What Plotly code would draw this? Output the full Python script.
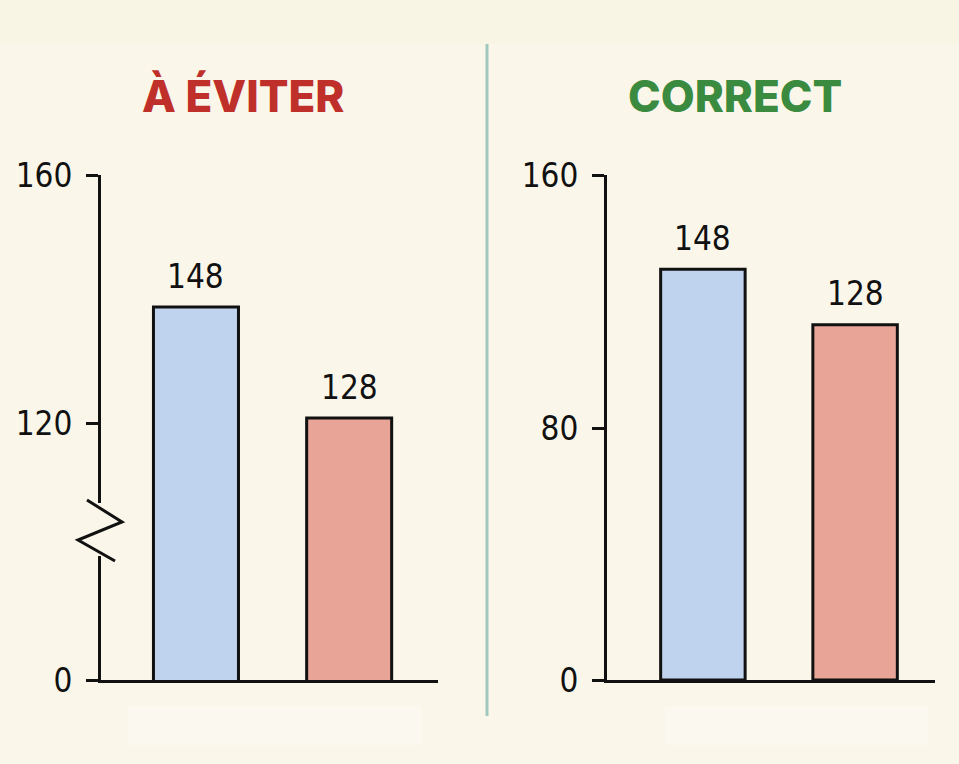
import plotly.graph_objects as go
from plotly.subplots import make_subplots

# data
categories = ["A", "B"]
values = [148, 128]
bar_colors = ["#bfd3ee", "#e7a497"]

titles = ["À ÉVITER", "CORRECT"]
title_colors = ["#c0302a", "#3a8a3f"]

# tick labels as printed on each panel
left_tick_text = ["0", "120", "160"]
right_tick_text = ["0", "80", "160"]

W, H = 959, 764
BG = "#faf7ea"
NUM_FONT = "Liberation Sans Narrow, DejaVu Sans Condensed, Roboto, sans-serif"
TITLE_FONT = "Inter, Lato, Open Sans, sans-serif"


def px(x, y):
    # pixel -> paper coords
    return x / W, 1 - y / H


fig = make_subplots(rows=1, cols=2, horizontal_spacing=0.1)

for i, col in enumerate([1, 2]):
    fig.add_trace(go.Bar(
        x=[0, 1], y=values,
        marker=dict(color=bar_colors, line=dict(color="#111111", width=3)),
        width=0.555,
        showlegend=False,
        hoverinfo="skip",
    ), row=1, col=col)
    xr = "x" if col == 1 else "x2"
    yr = "y" if col == 1 else "y2"
    for xi, v in enumerate(values):
        fig.add_annotation(x=xi, y=v, xref=xr, yref=yr, text=str(v),
                           showarrow=False, xanchor="center", yanchor="middle", yshift=31,
                           font=dict(family=NUM_FONT, size=33, color="#111111"))

# axis ranges picked so the bars sit where the picture draws them
ydom = [1 - 680 / H, 1 - 175 / H]
axis_common = dict(showline=True, linecolor="#111111", linewidth=3,
                   showgrid=False, zeroline=False, automargin=False)
fig.update_xaxes(axis_common, showticklabels=False, ticks="")
fig.update_xaxes(domain=[101 / W, 438 / W], range=[-0.62, 1.58], row=1, col=1)
fig.update_xaxes(domain=[607 / W, 935 / W], range=[-0.63, 1.525], row=1, col=2)

ytick_style = dict(ticks="outside", ticklen=12, tickwidth=2.5, tickcolor="#111111",
                   ticklabelstandoff=7,
                   tickfont=dict(family=NUM_FONT, size=33, color="#111111"))
fig.update_yaxes(axis_common, **ytick_style)
fig.update_yaxes(domain=ydom, range=[80.8, 171.8], tickmode="array",
                 tickvals=[80.8, 127.1, 171.8], ticktext=left_tick_text, row=1, col=1)
fig.update_yaxes(domain=ydom, range=[0, 182.0], tickmode="array",
                 tickvals=[0, 90.8, 182.0], ticktext=right_tick_text, row=1, col=2)

# titles
for cx, t, c in zip([243, 735], titles, title_colors):
    x0, y0 = px(cx, 96)
    fig.add_annotation(x=x0, y=y0, xref="paper", yref="paper", text=t, showarrow=False,
                       xanchor="center", yanchor="middle",
                       font=dict(family=TITLE_FONT, size=44, color=c, weight=800))

shapes = []
# top band
a, b = px(0, 0)
c, d = px(W, 44)
shapes.append(dict(type="rect", xref="paper", yref="paper", x0=a, y0=d, x1=c, y1=b,
                   fillcolor="#f8f5e4", line=dict(width=0), layer="below"))
# faint lighter patches under the axes
for x0p, x1p in [(128, 422), (665, 928)]:
    a, b = px(x0p, 706)
    c, d = px(x1p, 745)
    shapes.append(dict(type="rect", xref="paper", yref="paper", x0=a, y0=d, x1=c, y1=b,
                       fillcolor="#fbf9ef", line=dict(width=0), layer="below"))
# divider
a, b = px(487, 44)
c, d = px(487, 716)
shapes.append(dict(type="line", xref="paper", yref="paper", x0=a, y0=b, x1=c, y1=d,
                   line=dict(color="#9fc8be", width=3)))
# axis break on the left panel
a, b = px(95, 503)
c, d = px(105, 556)
shapes.append(dict(type="rect", xref="paper", yref="paper", x0=a, y0=d, x1=c, y1=b,
                   fillcolor=BG, line=dict(width=0), layer="above"))
pts = [px(87, 500), px(122, 522), px(78, 540), px(115, 561)]
path = "M " + " L ".join(f"{x:.5f},{y:.5f}" for x, y in pts)
shapes.append(dict(type="path", xref="paper", yref="paper", path=path,
                   line=dict(color="#111111", width=3), layer="above"))

fig.update_layout(
    width=W, height=H,
    margin=dict(l=0, r=0, t=0, b=0, pad=0),
    paper_bgcolor=BG, plot_bgcolor="rgba(0,0,0,0)",
    shapes=shapes,
    bargap=0.4,
)

# drop the default page margin so the figure fills the window
fig.write_html("out.html", config={"displayModeBar": False}, post_script=(
    "document.body.style.margin='0';"
    "document.body.style.background='" + BG + "';"
))
